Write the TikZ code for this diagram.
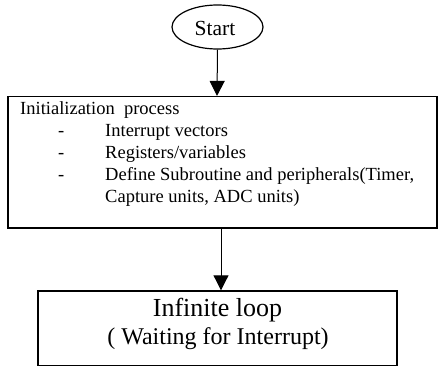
\documentclass[tikz,border=0pt]{standalone}
\usepackage{fontspec}
\setmainfont{Liberation Serif}
\usetikzlibrary{arrows.meta,shapes.geometric}
\begin{document}
\begin{tikzpicture}[x=1pt,y=-1pt,
  boxstyle/.style={draw=black,line width=1.5pt,inner sep=0pt,rectangle},
  bodytext/.style={anchor=base west,inner sep=0pt,font=\fontsize{18.5}{22}\selectfont},
  flow/.style={line width=1pt,-{Triangle[width=15pt,length=15pt]}}]
\useasboundingbox (0,0) rectangle (439,367);
\node[draw=black,line width=1.2pt,ellipse,minimum width=91pt,minimum height=44pt,inner sep=0pt] (start) at (217.5,27) {};
\node[anchor=base,inner sep=0pt,font=\fontsize{21.5}{24}\selectfont] (starttxt) at (215,35) {Start};
\node[boxstyle,minimum width=429pt,minimum height=131.3pt] (init) at (222.5,162.3) {};
\node[bodytext] (t0) at (20,114) {Initialization\ \ process};
\node[bodytext] (d1) at (58,136) {-};
\node[bodytext] (t1) at (105,136) {Interrupt vectors};
\node[bodytext] (d2) at (58,158) {-};
\node[bodytext] (t2) at (105,158) {Registers/variables};
\node[bodytext] (d3) at (58,180) {-};
\node[bodytext] (t3) at (105,180) {Define Subroutine and peripherals(Timer,};
\node[bodytext] (t4) at (105,202) {Capture units, ADC units)};
\node[boxstyle,minimum width=359pt,minimum height=74.5pt] (loop) at (217.5,328.3) {};
\node[anchor=base,inner sep=0pt,font=\fontsize{26}{28}\selectfont] (l1) at (217.5,316) {Infinite loop};
\node[anchor=base,inner sep=0pt,font=\fontsize{24}{26}\selectfont] (l2) at (218,344) {( Waiting for Interrupt)};
\coordinate (c1) at (217,0);
\coordinate (c2) at (221,0);
\draw[flow] (start.south) -- (c1 |- init.north);
\draw[flow] (c2 |- init.south) -- (c2 |- loop.north);
\end{tikzpicture}
\end{document}
